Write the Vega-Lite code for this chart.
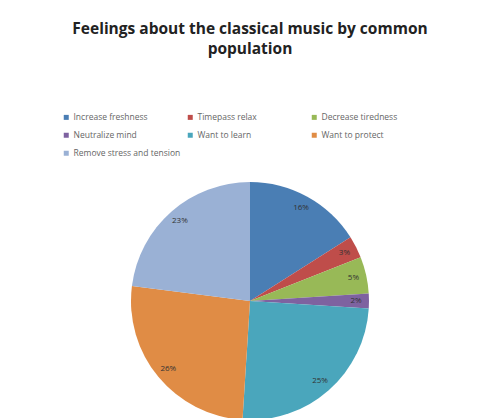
{
  "$schema": "https://vega.github.io/schema/vega-lite/v6.json",
  "autosize": {"type": "none"},
  "width": 238,
  "height": 232,
  "padding": {"left": 131, "top": 185, "right": 121, "bottom": 1},
  "background": "white",
  "title": {
    "text": ["Feelings about the classical music by common", "population"],
    "font": "Open Sans",
    "fontSize": 15.5,
    "fontWeight": "bold",
    "color": "#222222",
    "anchor": "middle",
    "baseline": "top",
    "offset": 56,
    "lineHeight": 20
  },
  "data": {
    "values": [
      {"feeling": "Increase freshness", "pct": 16, "label": "16%", "order": 1},
      {"feeling": "Timepass relax", "pct": 3, "label": "3%", "order": 2},
      {"feeling": "Decrease tiredness", "pct": 5, "label": "5%", "order": 3},
      {"feeling": "Neutralize mind", "pct": 2, "label": "2%", "order": 4},
      {"feeling": "Want to learn", "pct": 25, "label": "25%", "order": 5},
      {"feeling": "Want to protect", "pct": 26, "label": "26%", "order": 6},
      {"feeling": "Remove stress and tension", "pct": 23, "label": "23%", "order": 7}
    ]
  },
  "encoding": {
    "theta": {"field": "pct", "type": "quantitative", "stack": true},
    "order": {"field": "order", "type": "quantitative"}
  },
  "layer": [
    {
      "mark": {"type": "arc", "radius": 119, "stroke": null},
      "encoding": {
        "color": {
          "field": "feeling",
          "type": "nominal",
          "scale": {
            "domain": ["Increase freshness", "Timepass relax", "Decrease tiredness", "Neutralize mind", "Want to learn", "Want to protect", "Remove stress and tension"],
            "range": ["#4A7EB4", "#BF4D4A", "#98B957", "#7E62A0", "#4AA6BC", "#E08C45", "#9AB1D5"]
          },
          "legend": {
            "title": null,
            "orient": "none",
            "direction": "horizontal",
            "legendX": -69,
            "legendY": -72,
            "columns": 3,
            "gridAlign": "all",
            "columnPadding": 5,
            "rowPadding": 9,
            "padding": 0,
            "symbolType": "square",
            "symbolSize": 25,
            "symbolStrokeWidth": 0,
            "labelFont": "Open Sans",
            "labelFontSize": 8.5,
            "labelColor": "#666666",
            "labelOffset": 3,
            "labelLimit": 200
          }
        }
      }
    },
    {
      "mark": {"type": "text", "radius": 106, "font": "Open Sans", "fontSize": 8, "color": "#333333"},
      "encoding": {
        "text": {"field": "label", "type": "nominal"},
        "detail": {"field": "feeling", "type": "nominal"}
      }
    }
  ]
}
